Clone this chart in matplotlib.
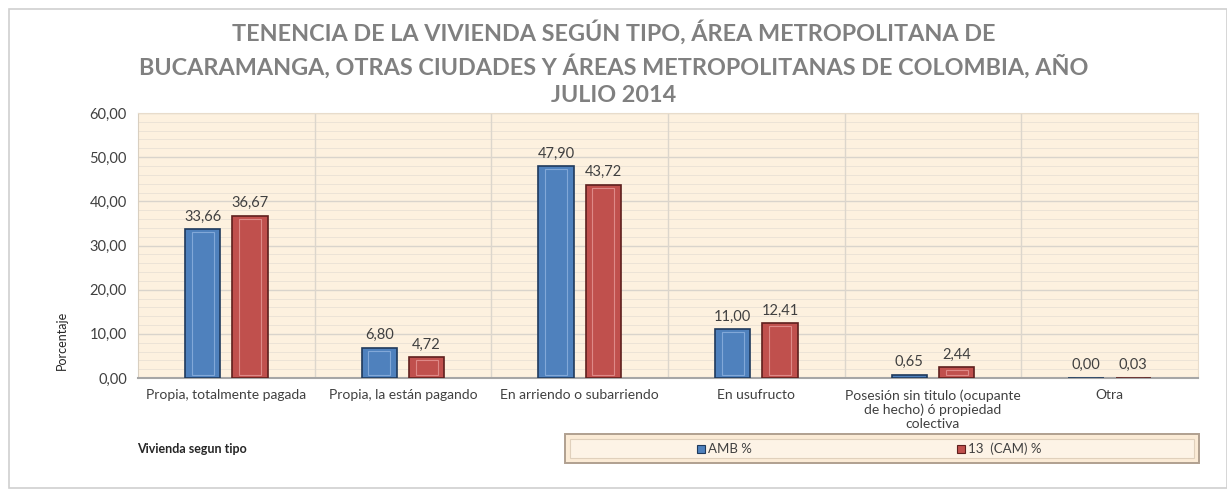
import matplotlib
matplotlib.use("Agg")
import matplotlib.pyplot as plt
import numpy as np
from matplotlib.patches import Rectangle
from matplotlib.ticker import MultipleLocator, FuncFormatter

categories = ["Propia, totalmente pagada", "Propia, la están pagando",
              "En arriendo o subarriendo", "En usufructo",
              "Posesión sin titulo (ocupante\nde hecho) ó propiedad\ncolectiva", "Otra"]
amb = [33.66, 6.80, 47.90, 11.00, 0.65, 0.00]
cam = [36.67, 4.72, 43.72, 12.41, 2.44, 0.03]
series_names = ["AMB %", "13  (CAM) %"]

plt.rcParams['font.family'] = ['Lato', 'DejaVu Sans']

fig = plt.figure(figsize=(12.27, 4.92), dpi=100)
W, H = 1227, 492
def fx(x): return x / W
def fy(y): return 1 - y / H

# outer frame
fig.patches.append(Rectangle((fx(9), fy(488)), fx(1227) - fx(9), fy(9) - fy(488),
                             transform=fig.transFigure, fill=False, edgecolor='#d0d0d0', lw=1.2))

ax = fig.add_axes([fx(138), fy(378), fx(1198) - fx(138), fy(113) - fy(378)])
ax.set_facecolor('#fdf1df')
x = np.arange(len(categories))
bw = 0.2
off = 0.134
blue, blue_e, blue_l = '#4f81bd', '#1f3a5c', '#8fb2e0'
red, red_e, red_l = '#c0504d', '#5e1f1d', '#e69896'

for xs, vals, c, ce, cl in [(x - off, amb, blue, blue_e, blue_l), (x + off, cam, red, red_e, red_l)]:
    ax.bar(xs, vals, bw, color=c, edgecolor=ce, linewidth=1.2, zorder=3)
    inner = [max(v - 1.2, 0) for v in vals]
    ax.bar(xs, inner, bw * 0.62, bottom=[0.6 if v > 2 else 0 for v in vals],
           fill=False, edgecolor=cl, linewidth=0.8, zorder=4, alpha=0.8)
    for xi, v in zip(xs, vals):
        ax.text(xi, v + 1.3, f"{v:.2f}".replace('.', ','), ha='center', va='bottom',
                fontsize=10.5, color='#404040', zorder=5)

ax.set_xlim(-0.5, len(categories) - 0.5)
ax.set_ylim(0, 60)
ax.yaxis.set_major_locator(MultipleLocator(10))
ax.yaxis.set_minor_locator(MultipleLocator(2))
ax.yaxis.set_major_formatter(FuncFormatter(lambda v, p: f"{v:.2f}".replace('.', ',')))
ax.grid(axis='y', which='major', color='#d9d4cc', lw=1.0, zorder=0)
ax.grid(axis='y', which='minor', color='#ece3d6', lw=0.7, zorder=0)
ax.set_axisbelow(True)
for b in np.arange(0.5, len(categories) - 0.5, 1):
    ax.axvline(b, color='#dcd6cc', lw=1.0, zorder=1)
ax.set_xticks(x)
ax.set_xticklabels(categories, fontsize=10, color='#404040', linespacing=1.2, va='top')
ax.tick_params(axis='x', length=0, pad=8)
ax.tick_params(axis='y', which='both', length=0, labelsize=10.5, labelcolor='#404040', pad=8)
for s in ['top', 'right']:
    ax.spines[s].set_color('#e8dccb')
ax.spines['left'].set_color('#d9cfc0')
ax.spines['bottom'].set_color('#a6a6a6')
ax.spines['bottom'].set_linewidth(1.5)

fig.text(fx(62), fy(340), "Porcentaje", rotation=90, ha='center', va='center',
         fontsize=9, color='#262626')

fig.text(0.5, fy(20), "TENENCIA DE LA VIVIENDA SEGÚN TIPO, ÁREA METROPOLITANA DE\n"
         "BUCARAMANGA, OTRAS CIUDADES Y ÁREAS METROPOLITANAS DE COLOMBIA, AÑO\nJULIO 2014",
         ha='center', va='top', fontsize=16.8, fontweight='bold', color='#808080',
         linespacing=1.42, transform=fig.transFigure)

fig.text(fx(137), fy(449), "Vivienda segun tipo", ha='left', va='center', fontsize=9,
         fontweight='bold', color='#262626')

# legend box
fig.patches.append(Rectangle((fx(565), fy(463)), fx(1199) - fx(565), fy(434) - fy(463),
                             transform=fig.transFigure, facecolor='#fbebd6', edgecolor='#b0a090', lw=1.4))
fig.patches.append(Rectangle((fx(570), fy(458)), fx(1194) - fx(570), fy(439) - fy(458),
                             transform=fig.transFigure, facecolor='#fdf3e6', edgecolor='#e0d0bc', lw=0.8))
for lx, name, c, ce in [(697, series_names[0], blue, blue_e), (957, series_names[1], red, red_e)]:
    fig.patches.append(Rectangle((fx(lx), fy(453)), fx(8), fy(445) - fy(453),
                                 transform=fig.transFigure, facecolor=c, edgecolor=ce, lw=0.8))
    fig.text(fx(lx + 11), fy(449), name, ha='left', va='center', fontsize=9.5, color='#404040')

fig.savefig("out.png", dpi=100)
